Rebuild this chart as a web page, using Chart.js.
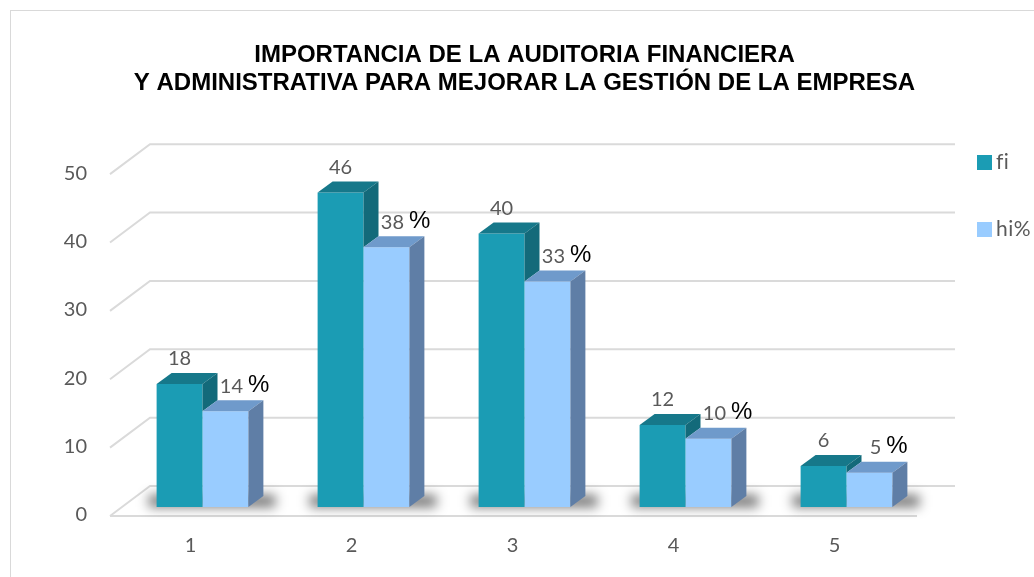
<!DOCTYPE html>
<html>
<head>
<meta charset="utf-8">
<script src="https://cdn.jsdelivr.net/npm/chart.js@4.4.1/dist/chart.umd.min.js"></script>
<style>
  html, body { margin: 0; padding: 0; background: #fff; overflow: hidden; }
  .frame { position: absolute; left: 10px; top: 10px; width: 1100px; height: 600px;
           border-left: 1px solid #d9d9d9; border-top: 1px solid #d9d9d9; }
  #chart { position: absolute; left: 0; top: 0; }
</style>
</head>
<body>
<div class="frame"></div>
<canvas id="chart" width="1034" height="577"></canvas>
<script>
const categories = ['1', '2', '3', '4', '5'];
const fi = [18, 46, 40, 12, 6];
const hiPct = [14, 38, 33, 10, 5];
const yTicks = [0, 10, 20, 30, 40, 50];
const titleLines = [
  'IMPORTANCIA DE LA AUDITORIA FINANCIERA',
  'Y ADMINISTRATIVA PARA MEJORAR LA GESTIÓN DE LA EMPRESA'
];

// front / top / side colours for the fake 3d boxes
const faces = [
  { front: '#1B9CB4', top: '#16788A', side: '#136A7A' },
  { front: '#99CCFF', top: '#6F9ACB', side: '#5F7EA6' }
];
const DX = 15, DY = -11;
const grey = '#595959';

function poly(ctx, pts, color) {
  ctx.beginPath();
  ctx.moveTo(pts[0][0], pts[0][1]);
  for (let i = 1; i < pts.length; i++) ctx.lineTo(pts[i][0], pts[i][1]);
  ctx.closePath();
  ctx.fillStyle = color;
  ctx.fill();
}

const bar3d = {
  id: 'bar3d',
  beforeDatasetsDraw(chart) {
    const { ctx, chartArea: a, scales: { y } } = chart;
    ctx.save();
    ctx.strokeStyle = '#dadada';
    ctx.lineWidth = 2;
    y.ticks.forEach(t => {
      const py = y.getPixelForValue(t.value);
      ctx.beginPath();
      ctx.moveTo(a.left - 12, py + 9);
      ctx.lineTo(a.left + 28, py - 21);
      ctx.lineTo(a.right + 28, py - 21);
      ctx.stroke();
    });
    // front edge of the floor
    const p0 = y.getPixelForValue(0);
    ctx.beginPath();
    ctx.moveTo(a.left - 12, p0 + 9);
    ctx.lineTo(a.right - 10, p0 + 9);
    ctx.stroke();

    // soft shadows under each group
    const m0 = chart.getDatasetMeta(0).data, m1 = chart.getDatasetMeta(1).data;
    ctx.filter = 'blur(6px)';
    ctx.fillStyle = 'rgba(0,0,0,0.55)';
    m0.forEach((b, i) => {
      const l = b.x - b.width / 2;
      const r = m1[i].x + m1[i].width / 2 + DX;
      ctx.fillRect(l - 8, b.base + DY - 1, r - l + 20, -DY + 1);
    });
    ctx.restore();
  },
  afterDatasetsDraw(chart) {
    const { ctx } = chart;
    const metas = chart.data.datasets.map((d, i) => chart.getDatasetMeta(i).data);
    ctx.save();
    categories.forEach((c, i) => {
      metas.forEach((bars, k) => {
        const b = bars[i], f = faces[k];
        const l = b.x - b.width / 2, r = b.x + b.width / 2;
        poly(ctx, [[l, b.y], [r, b.y], [r + DX, b.y + DY], [l + DX, b.y + DY]], f.top);
        const next = metas[k + 1] ? metas[k + 1][i] : null;
        const low = next ? Math.max(b.y, next.y) : b.base;
        poly(ctx, [[r, b.y], [r + DX, b.y + DY], [r + DX, low + DY], [r, low]], f.side);
      });
    });

    // value labels
    ctx.textBaseline = 'middle';
    metas[0].forEach((b, i) => {
      ctx.font = '20px Lato';
      ctx.fillStyle = grey;
      ctx.textAlign = 'center';
      ctx.fillText(String(fi[i]), b.x, b.y - 25);
    });
    metas[1].forEach((b, i) => {
      const txt = String(hiPct[i]);
      ctx.font = '20px Lato';
      ctx.fillStyle = grey;
      ctx.textAlign = 'center';
      ctx.fillText(txt, b.x + 6, b.y - 25);
      const w = ctx.measureText(txt).width;
      ctx.font = '24px "Liberation Sans"';
      ctx.fillStyle = '#000';
      ctx.textAlign = 'left';
      ctx.fillText('%', b.x + 6 + w / 2 + 5, b.y - 26);
    });
    ctx.restore();
  }
};

// legend drawn on the right, outside the plot
const sideLegend = {
  id: 'sideLegend',
  afterDraw(chart) {
    const { ctx } = chart;
    ctx.save();
    ctx.letterSpacing = '0.5px'; // keeps "fi" from turning into a ligature
    chart.data.datasets.forEach((ds, i) => {
      const top = 155 + i * 67;
      ctx.fillStyle = ds.backgroundColor;
      ctx.fillRect(977, top, 15, 15);
      ctx.font = '21px Lato';
      ctx.fillStyle = grey;
      ctx.textAlign = 'left';
      ctx.textBaseline = 'middle';
      ctx.fillText(ds.label, 996, top + 7);
    });
    ctx.restore();
  }
};

new Chart(document.getElementById('chart'), {
  type: 'bar',
  data: {
    labels: categories,
    datasets: [
      { label: 'fi', data: fi, backgroundColor: faces[0].front },
      { label: 'hi%', data: hiPct, backgroundColor: faces[1].front }
    ]
  },
  options: {
    responsive: false,
    animation: false,
    layout: { padding: { left: 0, right: 107, top: 0, bottom: 0 } },
    datasets: { bar: { barPercentage: 1, categoryPercentage: 0.57, borderWidth: 0 } },
    plugins: {
      legend: { display: false },
      tooltip: { enabled: false },
      title: {
        display: true,
        text: titleLines,
        fullSize: false,
        color: '#000',
        font: { family: '"Liberation Sans", Arial', size: 24, weight: 'bold', lineHeight: 1.17 },
        padding: { top: 41, bottom: 68 }
      }
    },
    scales: {
      x: {
        grid: { display: false, drawTicks: false },
        border: { display: false },
        ticks: { color: grey, font: { family: 'Lato', size: 20 }, padding: 27, labelOffset: -12 },
        afterFit: s => { s.height = 70; }
      },
      y: {
        min: 0,
        max: 50,
        grid: { display: false, drawTicks: false },
        border: { display: false },
        afterBuildTicks: s => { s.ticks = yTicks.map(v => ({ value: v })); },
        ticks: { color: grey, font: { family: 'Lato', size: 20 }, padding: 35, labelOffset: 8 },
        afterFit: s => { s.width = 122; }
      }
    }
  },
  plugins: [bar3d, sideLegend]
});
</script>
</body>
</html>
